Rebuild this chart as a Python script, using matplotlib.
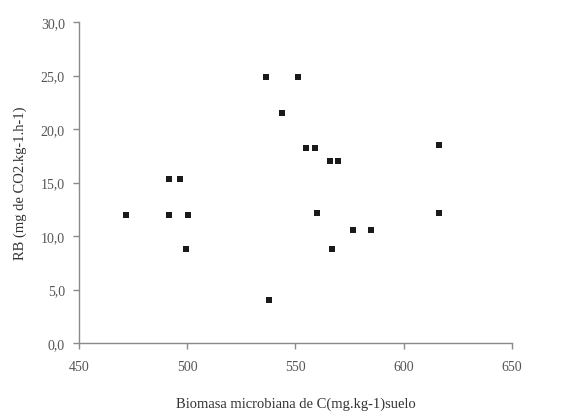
import matplotlib
matplotlib.use("Agg")
import matplotlib.pyplot as plt
from matplotlib.ticker import FuncFormatter

# Biomasa microbiana (x) vs RB (y)
biomasa = [471.9, 491.6, 491.6, 496.8, 500.2, 499.4, 536.4, 537.6, 543.8, 551.0,
           554.8, 559.1, 560.0, 565.9, 569.5, 566.7, 576.4, 584.9, 616.4, 616.1]
rb = [12.0, 12.0, 15.3, 15.3, 12.0, 8.8, 24.9, 4.0, 21.5, 24.9,
      18.2, 18.2, 12.2, 17.0, 17.0, 8.8, 10.6, 10.6, 18.5, 12.2]

x_ticks = [450, 500, 550, 600, 650]
y_ticks = [0, 5, 10, 15, 20, 25, 30]

plt.rcParams["font.family"] = ["Liberation Serif", "DejaVu Serif"]

fig = plt.figure(figsize=(5.67, 4.14), dpi=100)
ax = fig.add_axes([0.139, 0.169, 0.764, 0.775])

ax.scatter(biomasa, rb, s=13, marker="s", color="#1a1a1a", linewidths=0)

ax.set_xlim(450, 650)
ax.set_ylim(0, 30)
ax.set_xticks(x_ticks)
ax.set_yticks(y_ticks)
ax.yaxis.set_major_formatter(FuncFormatter(lambda v, p: f"{v:.1f}".replace(".", ",")))

for side in ("top", "right"):
    ax.spines[side].set_visible(False)
for side in ("left", "bottom"):
    ax.spines[side].set_color("#8a8a8a")
    ax.spines[side].set_linewidth(1.0)

ax.tick_params(axis="both", colors="#8a8a8a", labelcolor="#555555", labelsize=10,
               length=4, width=1.0, direction="out")
ax.tick_params(axis="x", pad=8)
ax.tick_params(axis="y", pad=6)

ax.set_xlabel("Biomasa microbiana de C(mg.kg-1)suelo", fontsize=10.5,
              color="#333333", labelpad=17)
ax.set_ylabel("RB (mg de CO2.kg-1.h-1)", fontsize=10.5, color="#333333", labelpad=10)

fig.savefig("out.png", dpi=100)
